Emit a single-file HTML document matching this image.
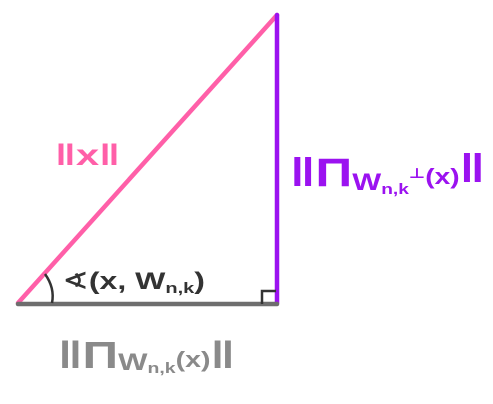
<!DOCTYPE html>
<html>
<head>
<meta charset="utf-8">
<style>
  html, body { margin: 0; padding: 0; background: #fff; }
  body { width: 493px; height: 404px; overflow: hidden; }
  svg { display: block; }
  text { font-family: "Liberation Sans", "DejaVu Sans", sans-serif; font-weight: bold; }
</style>
</head>
<body>
<svg width="493" height="404" viewBox="0 0 493 404">
  <line x1="18" y1="303" x2="277" y2="15" stroke="#ff5fa8" stroke-width="4.5" stroke-linecap="round"/>
  <line x1="277" y1="15" x2="277" y2="303" stroke="#9b12f0" stroke-width="4.5" stroke-linecap="round"/>
  <line x1="18" y1="304" x2="277" y2="304" stroke="#6e6e6e" stroke-width="4.5" stroke-linecap="round"/>
  <path d="M262 304 L262 291 L276 291" fill="none" stroke="#333" stroke-width="2.5"/>
  <path d="M45 274 Q55 288 52 303" fill="none" stroke="#333" stroke-width="2.5"/>

  <text x="55" y="165" fill="#ff5fa8" font-size="30" textLength="65" lengthAdjust="spacingAndGlyphs">‖x‖</text>
  <text x="290" y="186" fill="#9b12f0" font-size="40" textLength="195" lengthAdjust="spacingAndGlyphs">‖Π<tspan font-size="24" dy="4">W</tspan><tspan font-size="15" dy="4">n,k</tspan><tspan font-size="14" dy="-16">⊥</tspan><tspan font-size="22" dy="6">(x)</tspan><tspan font-size="40" dy="-2">‖</tspan></text>
  <text x="62" y="289" fill="#333" font-size="24" textLength="143" lengthAdjust="spacingAndGlyphs">∢(x, W<tspan font-size="15" dy="4">n,k</tspan><tspan dy="-4">)</tspan></text>
  <text x="58" y="368" fill="#8a8a8a" font-size="38" textLength="177" lengthAdjust="spacingAndGlyphs">‖Π<tspan font-size="24" dy="2">W</tspan><tspan font-size="15" dy="3">n,k</tspan><tspan font-size="22" dy="-6">(x)</tspan><tspan font-size="38" dy="1">‖</tspan></text>
</svg>
</body>
</html>
